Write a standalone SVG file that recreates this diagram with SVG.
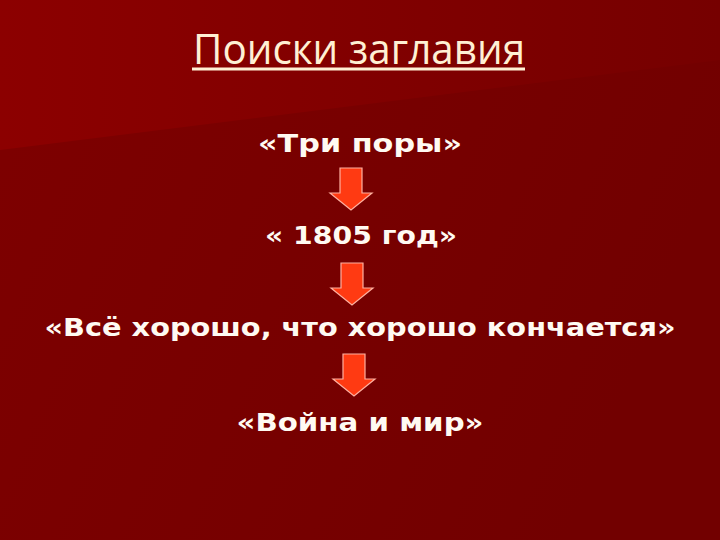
<svg xmlns="http://www.w3.org/2000/svg" width="720" height="540" viewBox="0 0 720 540">
<defs>
<linearGradient id="bg" x1="0" y1="0" x2="1" y2="0.3">
<stop offset="0" stop-color="#7e0000"/>
<stop offset="1" stop-color="#720000"/>
</linearGradient>
<linearGradient id="wedge" x1="0" y1="0" x2="1" y2="0">
<stop offset="0" stop-color="#8c0000"/>
<stop offset="1" stop-color="#760000"/>
</linearGradient>
<g id="arrow">
<path d="M-11,0 H11 V25 H21 L0,42 L-21,25 H-11 Z" fill="#ff3a12" stroke="#ffb0a0" stroke-width="1.2" stroke-linejoin="miter"/>
</g>
</defs>
<style>
.t{font-family:"DejaVu Sans","Liberation Sans",sans-serif;font-weight:bold;font-size:25px;fill:#fffaf2;text-anchor:middle}
.title{font-family:"Open Sans","DejaVu Sans",sans-serif;font-size:42px;fill:#fff0d4;text-anchor:middle}
</style>
<rect width="720" height="540" fill="url(#bg)"/>
<polygon points="0,0 720,0 720,60 0,150" fill="url(#wedge)"/>
<g id="title">
<text class="title" x="359" y="64" textLength="332" lengthAdjust="spacingAndGlyphs">Поиски заглавия</text>
<rect x="192" y="67.5" width="333" height="3" fill="#fff0d4"/>
</g>
<g id="n1"><text class="t" x="360" y="152" textLength="204" lengthAdjust="spacingAndGlyphs">«Три поры»</text></g>
<g id="n2"><text class="t" x="361" y="244" textLength="192" lengthAdjust="spacingAndGlyphs">« 1805 год»</text></g>
<g id="n3"><text class="t" x="360" y="336" textLength="631" lengthAdjust="spacingAndGlyphs">«Всё хорошо, что хорошо кончается»</text></g>
<g id="n4"><text class="t" x="360" y="431" textLength="247" lengthAdjust="spacingAndGlyphs">«Война и мир»</text></g>
<g id="connectors">
<use href="#arrow" x="351" y="168"/>
<use href="#arrow" x="352" y="263"/>
<use href="#arrow" x="354" y="354"/>
</g>
</svg>
